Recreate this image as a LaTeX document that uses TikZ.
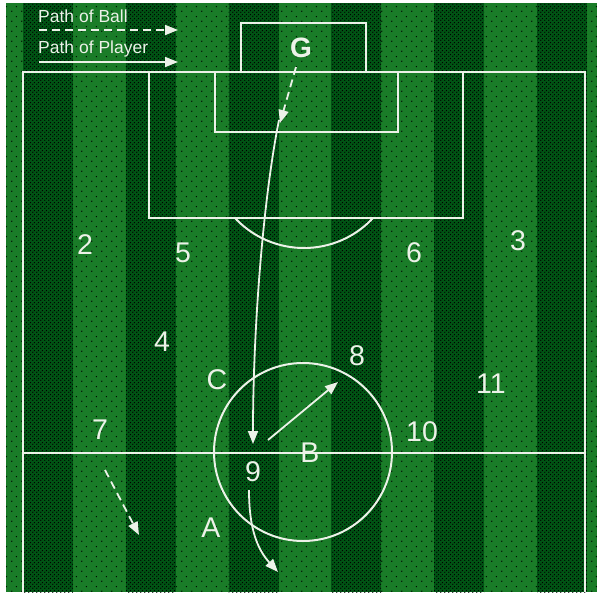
\documentclass[tikz,border=0pt]{standalone}
\usepackage{fontspec}
\setmainfont{Liberation Sans}
\usetikzlibrary{arrows.meta,patterns}
\pgfdeclarepatternformonly{densedots}{\pgfpoint{0pt}{0pt}}{\pgfpoint{4pt}{4pt}}{\pgfpoint{4pt}{4pt}}{%
  \pgfpathcircle{\pgfpoint{1pt}{1pt}}{0.85pt}%
  \pgfpathcircle{\pgfpoint{3pt}{3pt}}{0.85pt}%
  \pgfusepath{fill}}
\pgfdeclarepatternformonly{sparsedots}{\pgfpoint{0pt}{0pt}}{\pgfpoint{10pt}{10pt}}{\pgfpoint{10pt}{10pt}}{%
  \pgfpathcircle{\pgfpoint{2pt}{2pt}}{0.8pt}%
  \pgfpathcircle{\pgfpoint{7pt}{7pt}}{0.8pt}%
  \pgfusepath{fill}}
\definecolor{lightg}{RGB}{26,124,40}
\definecolor{darkg}{RGB}{0,84,20}
\definecolor{chalk}{RGB}{236,242,232}
\tikzset{
  pitchline/.style={draw=chalk, line width=2pt},
  ballpath/.style={draw=chalk, line width=1.8pt, dash pattern=on 8pt off 5pt, -{Triangle[length=13pt,width=10pt]}},
  playerpath/.style={draw=chalk, line width=1.8pt, -{Triangle[length=13pt,width=10pt]}},
  legendtext/.style={text=chalk, inner sep=0pt, font=\fontsize{17.5}{17.5}\selectfont},
  player/.style={text=chalk, inner sep=0pt, font=\fontsize{28.5}{28.5}\selectfont},
}
\begin{document}
\begin{tikzpicture}[x=1pt,y=-1pt]
\useasboundingbox (0,0) rectangle (597,592);
\fill[white] (0,0) rectangle (597,592);
% grass
\fill[lightg] (6,3) rectangle (597,592);
\fill[pattern=sparsedots, pattern color=black] (6,3) rectangle (597,592);
\foreach \i in {0,...,5} {
  \fill[darkg] ({23+102.8*\i},3) rectangle ++(50,589);
  \fill[pattern=densedots, pattern color=black] ({23+102.8*\i},3) rectangle ++(50,589);
}
% pitch markings
\draw[pitchline] (23,592) -- (23,72) -- (585,72) -- (585,592);
\draw[pitchline] (23,453) -- (585,453);
\draw[pitchline] (241,72) -- (241,23) -- (366,23) -- (366,72);
\draw[pitchline] (215,72) rectangle (398,132);
\draw[pitchline] (149,72) rectangle (463,218);
\begin{scope}
  \clip (149,219) rectangle (463,300);
  \draw[pitchline] (304,153.6) circle (94.4pt);
\end{scope}
\draw[pitchline] (303,452) circle (89pt);
% legend
\node[legendtext, anchor=base west] (lball) at (38,22.5) {Path of Ball};
\node[legendtext, anchor=base west] (lplayer) at (38,53.5) {Path of Player};
\coordinate (lb1) at (39,30);
\coordinate (lb2) at (178,30);
\coordinate (lp1) at (39,62);
\coordinate (lp2) at (178,62);
\draw[ballpath] (lb1) -- (lb2);
\draw[playerpath] (lp1) -- (lp2);
% labels
\node[player, font=\bfseries\fontsize{28}{28}\selectfont] (G) at (301,48) {G};
\node[player] (p2) at (85,245) {2};
\node[player] (p5) at (183,253) {5};
\node[player] (p6) at (414,253) {6};
\node[player] (p3) at (518,241) {3};
\node[player] (p4) at (162,342) {4};
\node[player] (p8) at (357,356) {8};
\node[player] (pC) at (217,380) {C};
\node[player] (p11) at (491,384) {11};
\node[player] (p7) at (100,430) {7};
\node[player] (p10) at (422,432) {10};
\node[player] (pB) at (310,453) {B};
\node[player] (p9) at (253,472) {9};
\node[player] (pA) at (211,528) {A};
% paths
\coordinate (g1) at (296,67);
\coordinate (g2) at (280,123);
\draw[ballpath] (g1) -- (g2);
\coordinate (r1) at (279,120);
\coordinate (r2) at (253,444);
\draw[playerpath] (r1) .. controls (263,200) and (253,330) .. (r2);
\coordinate (s1) at (268,440);
\coordinate (s2) at (338,382);
\draw[playerpath] (s1) -- (s2);
\coordinate (t1) at (249,490);
\coordinate (t2) at (278,572);
\draw[playerpath] (t1) .. controls (249,530) and (258,550) .. (t2);
\coordinate (u1) at (105,470);
\coordinate (u2) at (139,535);
\draw[ballpath] (u1) -- (u2);
\end{tikzpicture}
\end{document}
